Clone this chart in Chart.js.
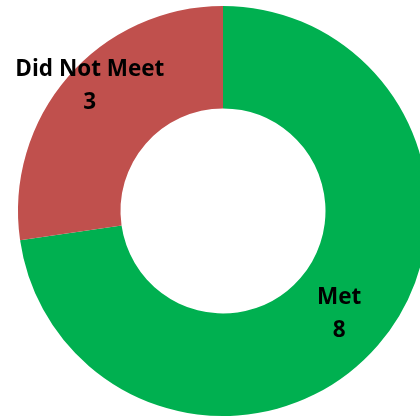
<html>
<head>
	<meta charset="utf-8">
	<title>Met / Did Not Meet</title>
	<script src="https://cdn.jsdelivr.net/npm/chart.js@4/dist/chart.umd.min.js"></script>
	<style>
		html, body { margin: 0; padding: 0; background: #fff; overflow: hidden; }
		#box { position: absolute; left: 0; top: 0; width: 446px; height: 422px; }
	</style>
</head>
<body>
	<div id="box"><canvas id="myChart" width="446" height="422"></canvas></div>

	<script>
		// data
		var categories = ["Met", "Did Not Meet"];
		var values = [8, 3];
		var colours = ["#00B050", "#C0504D"];

		// label offset (px) from the middle of each slice
		var labelOffset = [[0, 2], [-17, -25]];

		var labelPlugin = {
			id: 'sliceLabels',
			afterDatasetsDraw: function(chart) {
				var ctx = chart.ctx;
				var meta = chart.getDatasetMeta(0);
				ctx.save();
				ctx.fillStyle = '#000';
				ctx.font = 'bold 22.5px "Open Sans", sans-serif';
				ctx.textAlign = 'center';
				ctx.textBaseline = 'middle';
				meta.data.forEach(function(arc, i) {
					var p = arc.getProps(['x', 'y', 'startAngle', 'endAngle', 'innerRadius', 'outerRadius'], true);
					var mid = (p.startAngle + p.endAngle) / 2;
					var r = (p.innerRadius + p.outerRadius) / 2;
					var x = p.x + Math.cos(mid) * r + labelOffset[i][0];
					var y = p.y + Math.sin(mid) * r + labelOffset[i][1];
					ctx.fillText(categories[i], x, y - 16);
					ctx.fillText(String(values[i]), x, y + 17);
				});
				ctx.restore();
			}
		};

		var chart = new Chart(document.getElementById('myChart'), {
			type: 'doughnut',
			data: {
				labels: categories,
				datasets: [{
					data: values,
					backgroundColor: colours,
					borderWidth: 0
				}]
			},
			options: {
				responsive: false,
				animation: false,
				cutout: '50%',
				layout: { padding: 6 },
				plugins: {
					legend: { display: false },
					tooltip: { enabled: false }
				}
			},
			plugins: [labelPlugin]
		});
	</script>
</body>
</html>
